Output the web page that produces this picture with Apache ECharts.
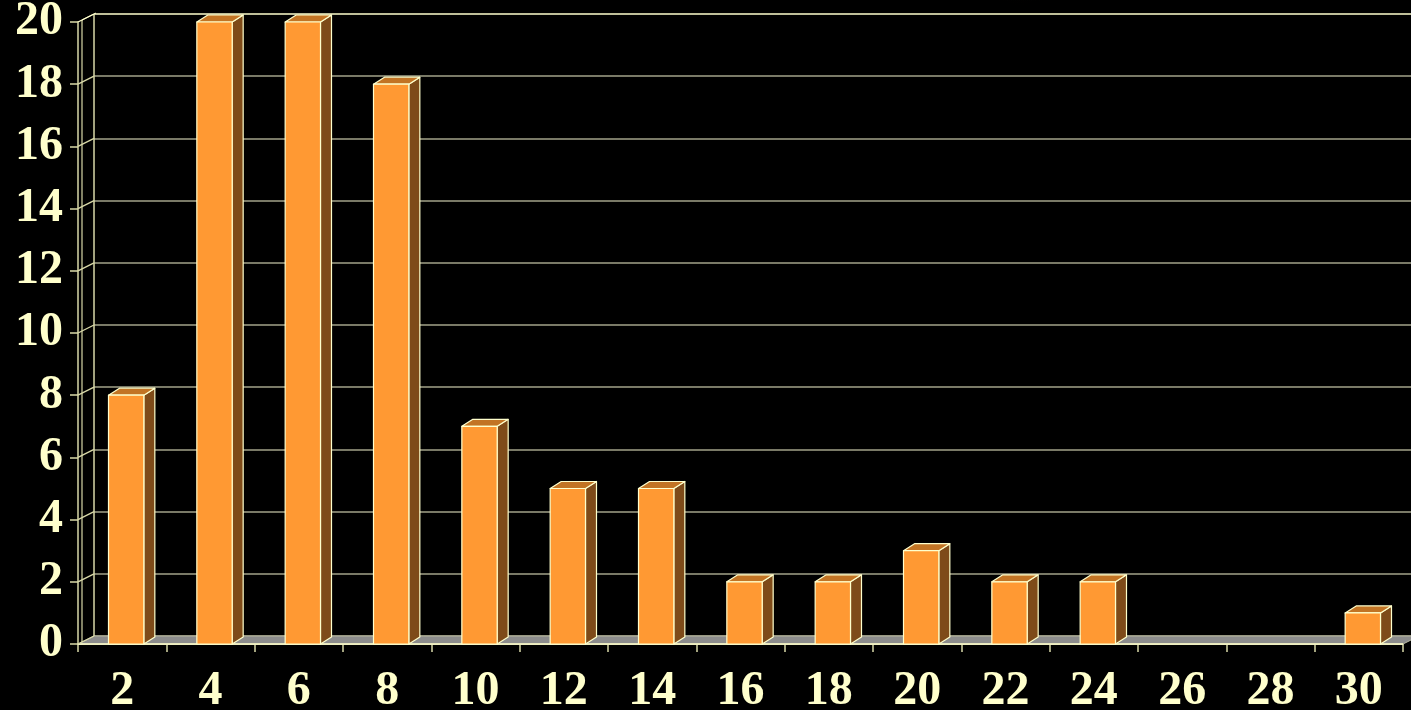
<!DOCTYPE html>
<html>
<head>
<meta charset="utf-8">
<script src="https://cdn.jsdelivr.net/npm/echarts@6/dist/echarts.min.js"></script>
<style>
html,body{margin:0;padding:0;background:#000;}
#chart{width:1411px;height:710px;}
</style>
</head>
<body>
<div id="chart"></div>
<script>
const categories = ['2','4','6','8','10','12','14','16','18','20','22','24','26','28','30'];
const counts = [8,20,20,18,7,5,5,2,2,3,2,2,0,0,1];
const yTicks = [0,2,4,6,8,10,12,14,16,18,20];

const DX = 16, DY = -8;       // wall depth
const BDX = 11, BDY = -7;     // bar depth
const cream = '#FFFFCC';
const wallLine = '#D9D9A8';
const gridGray = '#A3A38A';
const font = {fontFamily:'Liberation Serif', fontWeight:'bold', fontSize:48, color:cream};

const chart = echarts.init(document.getElementById('chart'));

const splitColors = yTicks.map((v,i)=> i===yTicks.length-1 ? cream : gridGray);

chart.setOption({
  backgroundColor:'#000',
  animation:false,
  graphic:[{
    type:'ellipse', z:-10, silent:true,
    shape:{cx:1020, cy:-40, rx:170, ry:46},
    style:{fill:new echarts.graphic.RadialGradient(0.5,0.5,0.5,[{offset:0,color:'#3a1608'},{offset:1,color:'rgba(0,0,0,0)'}])}
  }],
  grid:[
    {left:78, right:8, top:22, bottom:66, containLabel:false, outerBoundsMode:'none'},
    {left:94, right:-8, top:14, bottom:74, containLabel:false, outerBoundsMode:'none'}
  ],
  xAxis:[
    {type:'category', gridIndex:0, data:categories, boundaryGap:true,
     axisLine:{show:true, lineStyle:{color:cream, width:1.5}},
     axisTick:{show:true, length:8, lineStyle:{color:wallLine, width:1.5}},
     axisLabel:Object.assign({margin:24, interval:0}, font),
     splitLine:{show:false}},
    {type:'category', gridIndex:1, data:categories, show:false}
  ],
  yAxis:[
    {type:'value', gridIndex:0, min:0, max:20, interval:2,
     axisLine:{show:true, lineStyle:{color:wallLine, width:1.5}},
     axisTick:{show:true, length:8, lineStyle:{color:wallLine, width:1.5}},
     axisLabel:Object.assign({margin:15}, font),
     splitLine:{show:false}},
    {type:'value', gridIndex:1, min:0, max:20, interval:2,
     axisLine:{show:false}, axisTick:{show:false}, axisLabel:{show:false},
     splitLine:{show:true, lineStyle:{color:splitColors, width:1.5}}}
  ],
  series:[
    {
      // back wall vertical line and floor
      type:'custom', xAxisIndex:0, yAxisIndex:0, z:1, silent:true,
      data:[[0,0]],
      renderItem:function(params, api){
        const cs = params.coordSys;
        const y0 = api.coord([0,0])[1];
        const yTop = api.coord([0,20])[1];
        const xl = cs.x, xr = cs.x + cs.width;
        const children = [];
        children.push({type:'polygon', shape:{points:[[xl,y0],[xl+DX,y0+DY],[xr+DX,y0+DY],[xr,y0]]},
          style:{fill:'#8C8C8C', stroke:'#B8B8A0', lineWidth:1}});
        children.push({type:'line', shape:{x1:xl,y1:y0,x2:xr,y2:y0}, style:{stroke:cream, lineWidth:1.5}});
        children.push({type:'line', shape:{x1:xl+DX,y1:yTop+DY,x2:xl+DX,y2:y0+DY}, style:{stroke:wallLine, lineWidth:1.5}});
        children.push({type:'line', shape:{x1:xl+4,y1:yTop-2,x2:xl+4,y2:y0-2}, style:{stroke:wallLine, lineWidth:1.2}});
        return {type:'group', children:children};
      }
    },
    {
      // wall diagonals at each tick
      type:'custom', xAxisIndex:0, yAxisIndex:0, z:2, silent:true,
      data:yTicks.map(v=>[0,v]),
      renderItem:function(params, api){
        const cs = params.coordSys;
        const y = api.coord([0, api.value(1)])[1];
        const xl = cs.x;
        const top = api.value(1) === 20;
        const children = [{type:'line', shape:{x1:xl,y1:y,x2:xl+DX,y2:y+DY}, style:{stroke: top?cream:wallLine, lineWidth:1.3}}];
        if (top) children.push({type:'line', shape:{x1:xl+4,y1:y-2,x2:xl+DX+2,y2:y+DY-1}, style:{stroke:cream, lineWidth:1}});
        return {type:'group', children:children};
      }
    },
    {
      type:'custom', xAxisIndex:0, yAxisIndex:0, z:5, silent:true,
      data:counts.map((v,i)=>[i,v]),
      renderItem:function(params, api){
        const v = api.value(1);
        if (!(v > 0)) return null;
        const p = api.coord([api.value(0), v]);
        const b = api.coord([api.value(0), 0]);
        const bw = api.size([1,0])[0] * 0.4;
        const x1 = p[0] + 4 - bw/2, x2 = p[0] + 4 + bw/2;
        const yt = p[1], yb = b[1];
        const st = {stroke:cream, lineWidth:1.2, lineJoin:'round'};
        return {type:'group', children:[
          {type:'polygon', shape:{points:[[x2,yt],[x2+BDX,yt+BDY],[x2+BDX,yb+BDY],[x2,yb]]}, style:Object.assign({fill:'#7E4B19'}, st)},
          {type:'polygon', shape:{points:[[x1,yt],[x1+BDX,yt+BDY],[x2+BDX,yt+BDY],[x2,yt]]}, style:Object.assign({fill:'#C27424'}, st)},
          {type:'rect', shape:{x:x1, y:yt, width:x2-x1, height:yb-yt}, style:Object.assign({fill:'#FF9933'}, st)}
        ]};
      }
    }
  ]
});
</script>
</body>
</html>
